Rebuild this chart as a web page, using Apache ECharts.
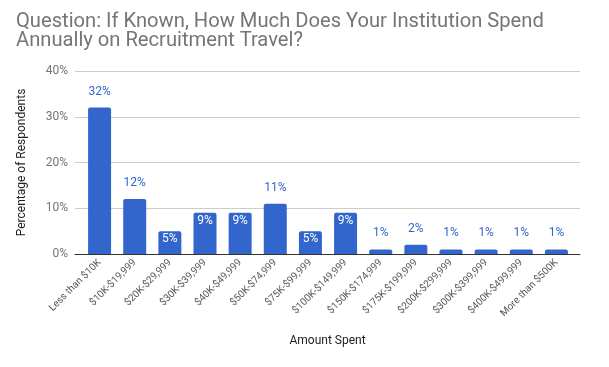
<!DOCTYPE html>
<html><head><meta charset="utf-8">
<script src="https://cdn.jsdelivr.net/npm/echarts@6/dist/echarts.min.js"></script>
<style>html,body{margin:0;padding:0;background:#fff}#c{width:609px;height:367px}</style>
</head><body><div id="c"></div>
<script>
const categories = ["Less than $10K","$10K-$19,999","$20K-$29,999","$30K-$39,999","$40K-$49,999","$50K-$74,999","$75K-$99,999","$100K-$149,999","$150K-$174,999","$175K-$199,999","$200K-$299,999","$300K-$399,999","$400K-$499,999","More than $500K"];
const values = [32,12,5,9,9,11,5,9,1,2,1,1,1,1];
const yTicks = [0,10,20,30,40];
const insideIdx = [2,3,4,6,7];
const titleLines = ['Question: If Known, How Much Does Your Institution Spend','Annually on Recruitment Travel?'];

// fit title font so first line spans ~528px as in the reference
const ctx = document.createElement('canvas').getContext('2d');
ctx.font = '20px Roboto';
const w20 = ctx.measureText(titleLines[0]).width;
const titleSize = Math.max(16, Math.min(22, 20 * 528 / w20));

const chart = echarts.init(document.getElementById('c'));
const data = values.map((v,i) => insideIdx.includes(i)
  ? {value:v,label:{position:'insideTop',distance:2,color:'#ffffff'}}
  : {value:v});
const yMin = yTicks[0], yMax = yTicks[yTicks.length-1];
chart.setOption({
  animation:false,
  title:{text:titleLines.join('\n'),left:16,top:12,padding:0,
    textStyle:{fontFamily:'Roboto',fontSize:titleSize,fontWeight:'normal',color:'#757575',lineHeight:19}},
  grid:[{left:75,right:29,top:71,bottom:113},{left:82,right:35,top:71,bottom:113}],
  xAxis:[
    {type:'category',gridIndex:0,data:[''],
     name:'Amount Spent',nameLocation:'middle',nameGap:81,
     nameTextStyle:{fontFamily:'Roboto',fontSize:12,color:'#222'},
     axisLine:{lineStyle:{color:'#333',width:1}},axisTick:{show:false},axisLabel:{show:false}},
    {type:'category',gridIndex:1,data:categories,
     axisLine:{show:false},axisTick:{show:false},
     axisLabel:{rotate:45,interval:0,fontFamily:'Roboto',fontSize:10,color:'#555',margin:7}}],
  yAxis:[
    {type:'value',gridIndex:0,min:yMin,max:yMax,interval:10,
     name:'Percentage of Respondents',nameLocation:'middle',nameGap:47,
     nameTextStyle:{fontFamily:'Roboto',fontSize:12,color:'#222'},
     axisLine:{show:false},axisTick:{show:false},
     axisLabel:{formatter:'{value}%',fontFamily:'Roboto',fontSize:12,color:'#757575',margin:7},
     splitLine:{lineStyle:{color:'#cccccc'}}},
    {type:'value',gridIndex:1,min:yMin,max:yMax,interval:10,show:false}],
  series:[{type:'bar',xAxisIndex:1,yAxisIndex:1,data:data,barWidth:23,z:3,
    itemStyle:{color:'#3366cc',borderRadius:[2,2,0,0]},
    label:{show:true,position:'top',distance:10,formatter:'{c}%',fontFamily:'Roboto',fontSize:12,color:'#3366cc'}}]
});
</script></body></html>
